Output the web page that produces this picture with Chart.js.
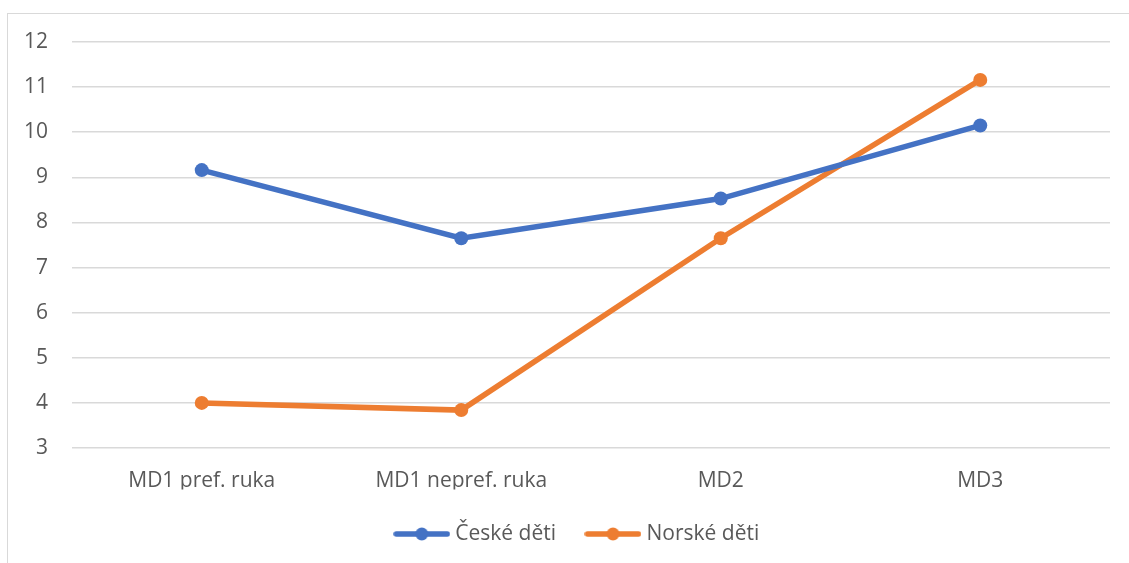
<!DOCTYPE html>
<html>
<head>
<meta charset="utf-8">
<script src="https://cdn.jsdelivr.net/npm/chart.js@4.4.1/dist/chart.umd.min.js"></script>
<style>
  html, body { margin: 0; padding: 0; background: #fff; overflow: hidden; }
  #wrap { position: relative; width: 1129px; height: 563px; }
  #frame { position: absolute; left: 7px; top: 13px; width: 1200px; height: 700px; border: 1.5px solid #d9d9d9; box-sizing: border-box; }
  canvas { position: absolute; left: 0; top: 0; }
</style>
</head>
<body>
<div id="wrap">
  <div id="frame"></div>
  <canvas id="c" width="1129" height="563"></canvas>
</div>
<script>
const categories = ["MD1 pref. ruka", "MD1 nepref. ruka", "MD2", "MD3"];
const czechValues = [9.16, 7.65, 8.53, 10.15];
const norwegianValues = [4.00, 3.84, 7.65, 11.16];
const seriesNames = ["České děti", "Norské děti"];
const yTicks = [3, 4, 5, 6, 7, 8, 9, 10, 11, 12];

const BLUE = "#4472C4", ORANGE = "#ED7D31", TEXT = "#595959", GRID = "#D9D9D9";
const FONT = "'Open Sans', 'Noto Sans', sans-serif";
const FS = 21;

function legendIcon(color) {
  const c = document.createElement("canvas");
  c.width = 57; c.height = 16;
  const g = c.getContext("2d");
  g.strokeStyle = color; g.lineWidth = 5.5; g.lineCap = "round";
  g.beginPath(); g.moveTo(3, 8); g.lineTo(54, 8); g.stroke();
  g.fillStyle = color; g.beginPath(); g.arc(28.5, 8, 6.5, 0, Math.PI * 2); g.fill();
  return c;
}

const shiftLegend = {
  id: "shiftLegend",
  afterLayout(chart) { chart.legend.left += 24; chart.legend.right += 24; }
};

new Chart(document.getElementById("c"), {
  type: "line",
  plugins: [shiftLegend],
  data: {
    labels: categories,
    datasets: [
      { label: seriesNames[0], data: czechValues, borderColor: BLUE, backgroundColor: BLUE,
        borderWidth: 5.5, pointRadius: 7, pointHoverRadius: 7, pointBackgroundColor: BLUE, pointBorderWidth: 0,
        pointStyle: "circle", tension: 0 },
      { label: seriesNames[1], data: norwegianValues, borderColor: ORANGE, backgroundColor: ORANGE,
        borderWidth: 5.5, pointRadius: 7, pointHoverRadius: 7, pointBackgroundColor: ORANGE, pointBorderWidth: 0,
        pointStyle: "circle", tension: 0 }
    ]
  },
  options: {
    responsive: false,
    animation: false,
    layout: { padding: { left: 0, right: 19, top: 42, bottom: 8.5 } },
    scales: {
      x: {
        offset: true,
        afterFit: (s) => { s.height = 41.5; },
        grid: { display: false, drawTicks: false },
        border: { display: false },
        ticks: { color: TEXT, font: { family: FONT, size: FS }, padding: 20 }
      },
      y: {
        min: 3, max: 12,
        afterBuildTicks: (s) => { s.ticks = yTicks.map(v => ({ value: v })); },
        afterFit: (s) => { s.width = 72; },
        grid: { color: GRID, lineWidth: 1.5, drawTicks: false },
        border: { display: false },
        ticks: { color: TEXT, font: { family: FONT, size: FS }, padding: 24 }
      }
    },
    plugins: {
      tooltip: { enabled: false },
      legend: {
        position: "bottom",
        labels: {
          color: TEXT,
          font: { family: FONT, size: FS },
          usePointStyle: true,
          pointStyleWidth: 46,
          padding: 34,
          generateLabels: (chart) => chart.data.datasets.map((d, i) => ({
            text: d.label, fontColor: TEXT, pointStyle: legendIcon(d.borderColor),
            datasetIndex: i, hidden: false, lineWidth: 0, strokeStyle: d.borderColor, fillStyle: d.borderColor
          }))
        }
      }
    }
  }
});
</script>
</body>
</html>
